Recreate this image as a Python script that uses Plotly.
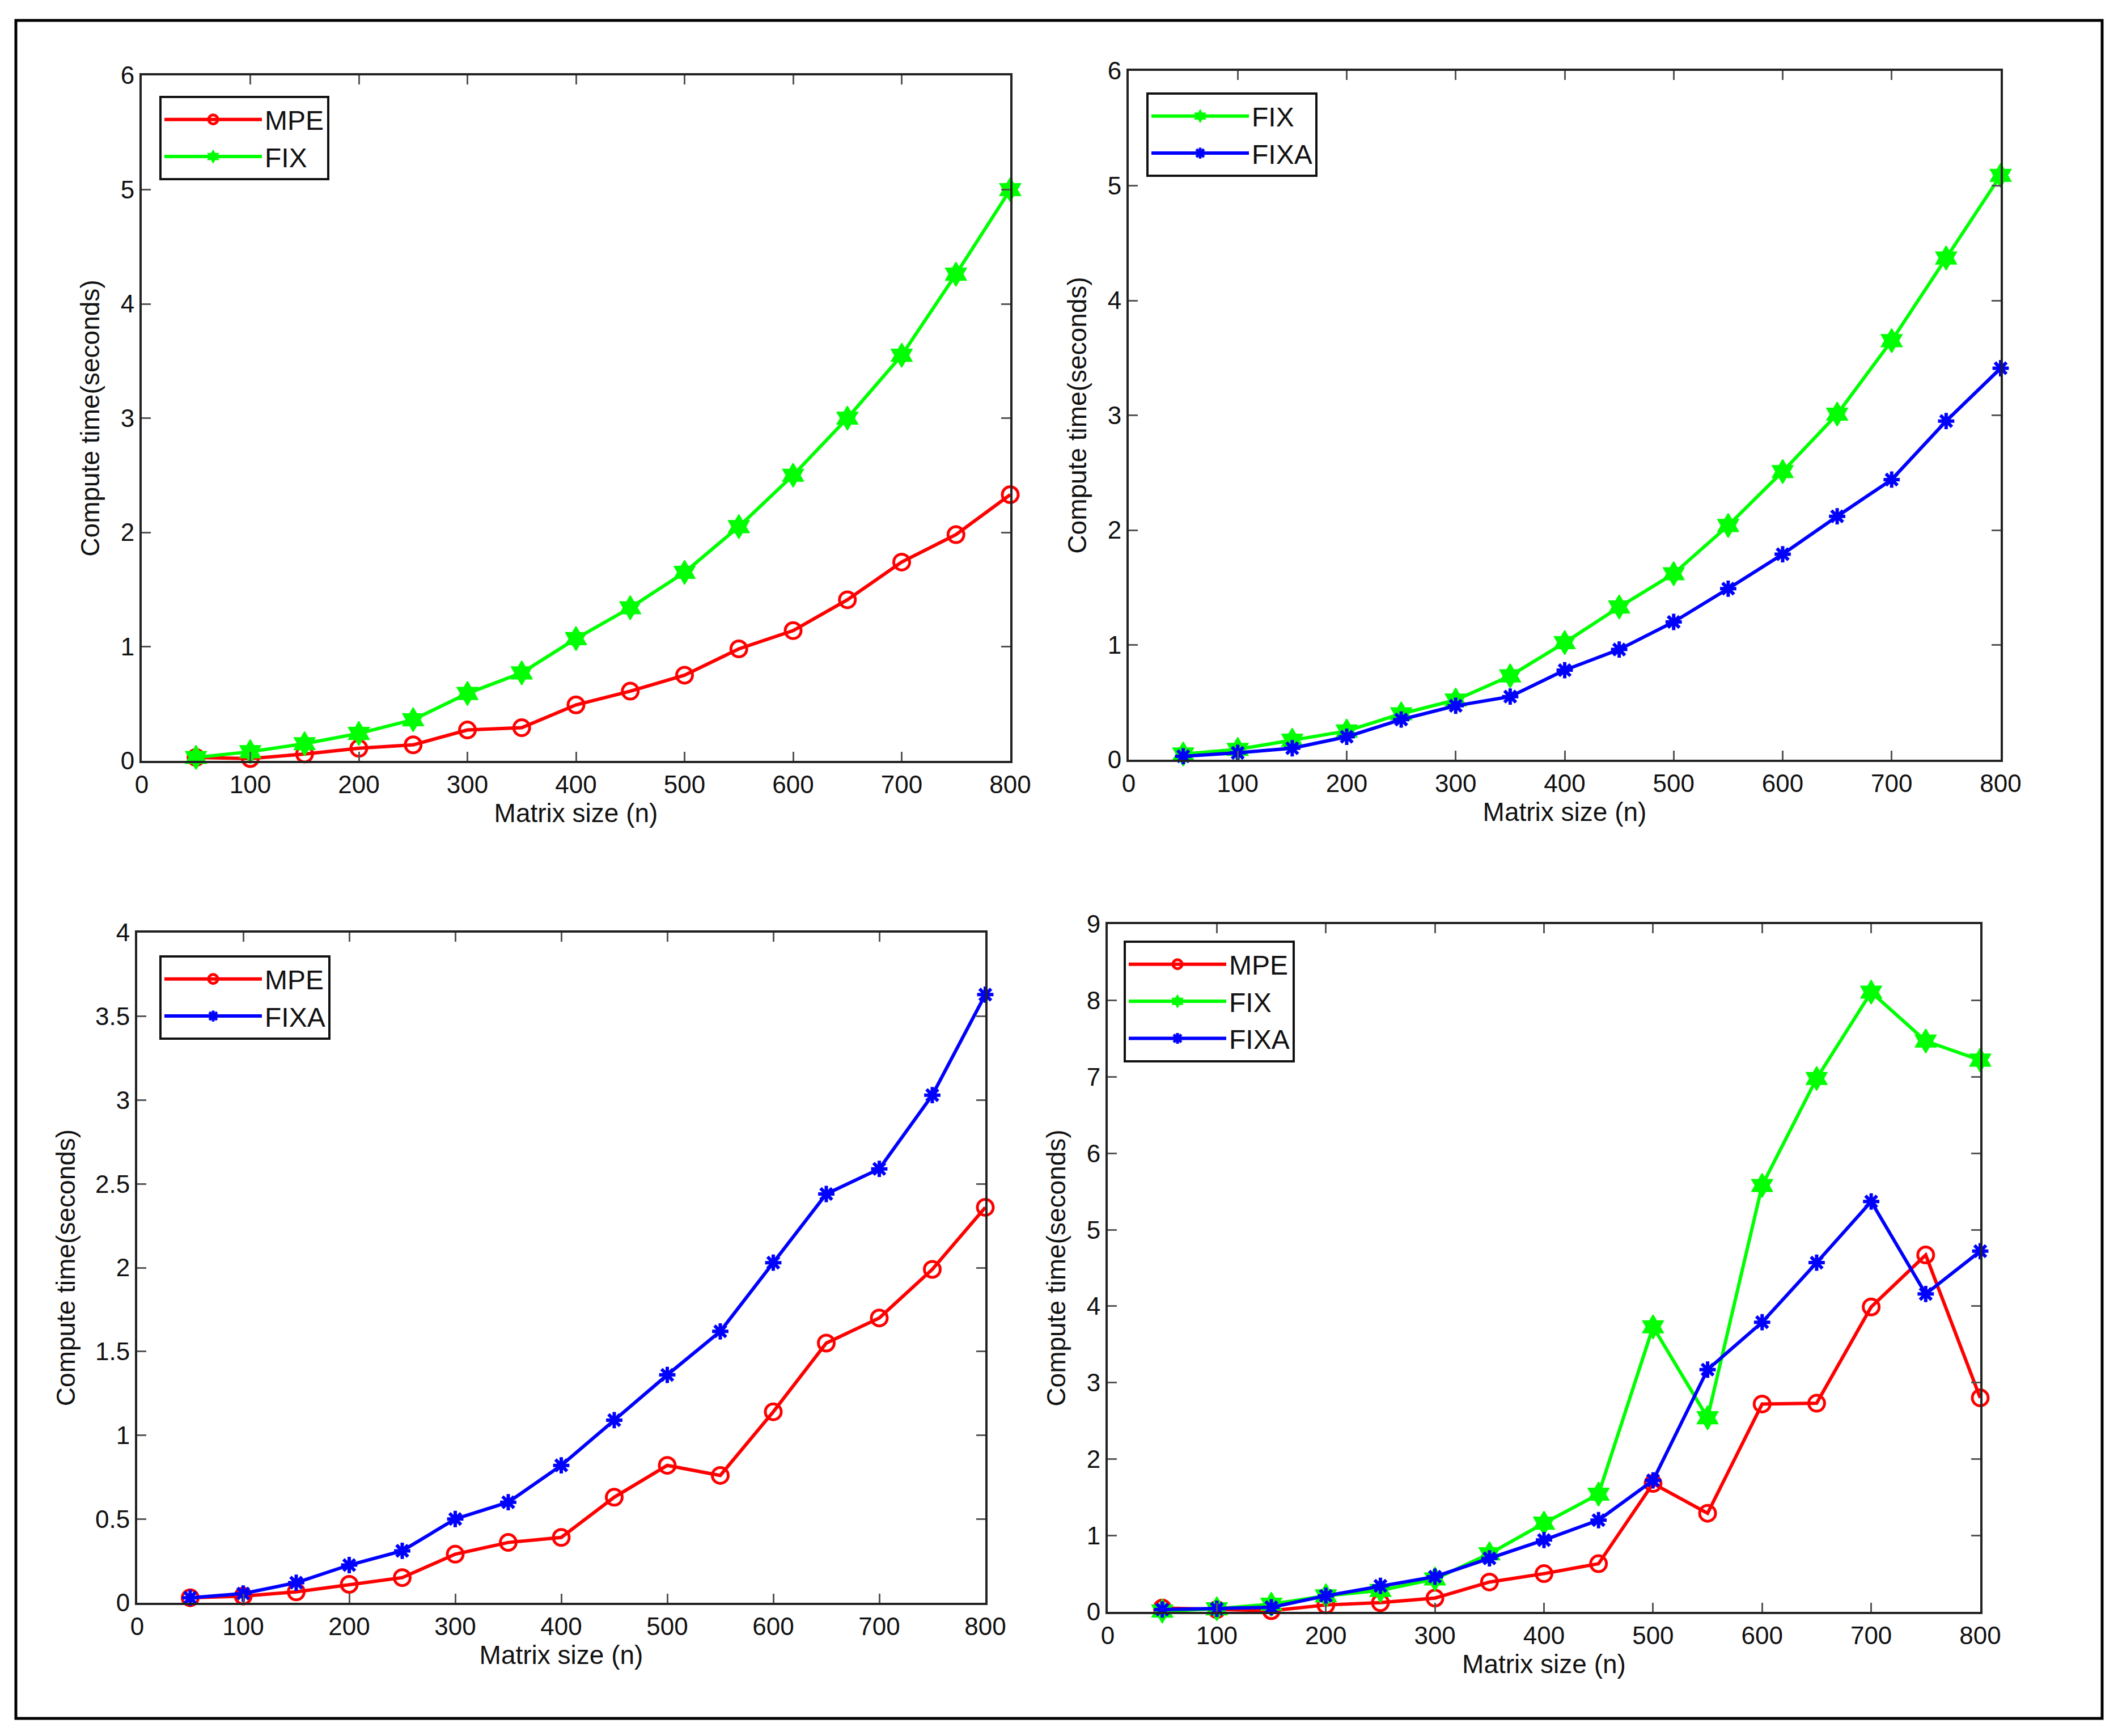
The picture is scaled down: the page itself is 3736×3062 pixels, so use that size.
import plotly.graph_objects as go

W, H = 3736, 3062

# ---------------- data ----------------
n = [50, 100, 150, 200, 250, 300, 350, 400, 450, 500, 550, 600, 650, 700, 750, 800]
x_ticks = [0, 100, 200, 300, 400, 500, 600, 700, 800]

# panel 1 (top-left): MPE vs FIX
p1_mpe = [0.03, 0.02, 0.06, 0.11, 0.14, 0.27, 0.29, 0.49, 0.61, 0.75, 0.98, 1.14, 1.41, 1.74, 1.98, 2.33]
p1_fix = [0.03, 0.08, 0.15, 0.24, 0.36, 0.59, 0.77, 1.07, 1.34, 1.65, 2.05, 2.50, 3.00, 3.55, 4.26, 5.00]

# panel 2 (top-right): FIX vs FIXA
p2_fix = [0.05, 0.09, 0.17, 0.25, 0.40, 0.52, 0.73, 1.02, 1.33, 1.62, 2.04, 2.51, 3.01, 3.65, 4.37, 5.09]
p2_fixa = [0.03, 0.06, 0.10, 0.20, 0.35, 0.47, 0.55, 0.78, 0.96, 1.20, 1.49, 1.79, 2.12, 2.44, 2.95, 3.41]

# panel 3 (bottom-left): MPE vs FIXA
p3_mpe = [0.03, 0.04, 0.065, 0.11, 0.15, 0.29, 0.36, 0.39, 0.63, 0.82, 0.76, 1.14, 1.55, 1.70, 1.99, 2.36]
p3_fixa = [0.03, 0.055, 0.12, 0.225, 0.31, 0.50, 0.60, 0.82, 1.09, 1.36, 1.62, 2.03, 2.44, 2.59, 3.03, 3.63]

# panel 4 (bottom-right): MPE, FIX, FIXA
p4_mpe = [0.05, 0.03, 0.015, 0.09, 0.12, 0.18, 0.39, 0.50, 0.63, 1.68, 1.29, 2.72, 2.73, 3.99, 4.67, 2.80]
p4_fix = [0.01, 0.04, 0.10, 0.21, 0.28, 0.43, 0.76, 1.16, 1.54, 3.73, 2.54, 5.58, 6.98, 8.11, 7.47, 7.22]
p4_fixa = [0.03, 0.04, 0.06, 0.21, 0.34, 0.46, 0.70, 0.94, 1.20, 1.72, 3.17, 3.79, 4.57, 5.37, 4.16, 4.72]

y_ticks_6 = [0, 1, 2, 3, 4, 5, 6]
y_ticks_4 = [0, 0.5, 1, 1.5, 2, 2.5, 3, 3.5, 4]
y_ticks_4_text = ["0", "0.5", "1", "1.5", "2", "2.5", "3", "3.5", "4"]
y_ticks_9 = [0, 1, 2, 3, 4, 5, 6, 7, 8, 9]

x_title = "Matrix size (n)"
y_title = "Compute time(seconds)"

# ---------------- styles ----------------
FONT = "Liberation Sans, Arial, Helvetica, sans-serif"
STY = {
    "MPE": dict(color="#ff0000", symbol="circle-open", size=28, lw=5),
    "FIX": dict(color="#00ff00", symbol="hexagram", size=32, lw=2),
    "FIXA": dict(color="#0000ff", symbol="asterisk-open", size=24, lw=6),
}


def px_x(p):
    return p / W


def py_y(p):
    return 1 - p / H


# subplot pixel boxes: (x0, x1), (ytop, ybottom)
boxes = [
    ((250, 1782), (133, 1342)),
    ((1991, 3529), (125, 1340)),
    ((242, 1738), (1645, 2827)),
    ((1954, 3493), (1630, 2843)),
]
legend_pos = [(281, 169), (2022, 163), (281, 1685), (1982, 1659)]
ytitle_standoff = [24, 24, 22, 24]

panels = [
    [("MPE", p1_mpe), ("FIX", p1_fix)],
    [("FIX", p2_fix), ("FIXA", p2_fixa)],
    [("MPE", p3_mpe), ("FIXA", p3_fixa)],
    [("MPE", p4_mpe), ("FIX", p4_fix), ("FIXA", p4_fixa)],
]
yranges = [(0, 6), (0, 6), (0, 4), (0, 9)]
yticks = [(y_ticks_6, [str(v) for v in y_ticks_6]),
          (y_ticks_6, [str(v) for v in y_ticks_6]),
          (y_ticks_4, y_ticks_4_text),
          (y_ticks_9, [str(v) for v in y_ticks_9])]

fig = go.Figure()
layout = {}

for i, (series, box) in enumerate(zip(panels, boxes)):
    k = i + 1
    sfx = "" if k == 1 else str(k)
    leg = "legend" if k == 1 else f"legend{k}"
    for name, vals in series:
        s = STY[name]
        fig.add_trace(go.Scatter(
            x=n, y=vals, name=name, mode="lines+markers",
            xaxis=f"x{sfx}", yaxis=f"y{sfx}", legend=leg,
            cliponaxis=False,
            line=dict(color=s["color"], width=6),
            marker=dict(symbol=s["symbol"], size=s["size"], color=s["color"],
                        line=dict(color=s["color"], width=s["lw"])),
        ))
    (x0, x1), (yt, yb) = box
    axis_common = dict(
        showline=True, linecolor="#222", linewidth=4, mirror="ticks",
        ticks="inside", ticklen=16, tickwidth=3, tickcolor="#555",
        showgrid=False, zeroline=False, automargin=False,
        tickfont=dict(family=FONT, size=44, color="#111"),
    )
    layout[f"xaxis{sfx}"] = dict(
        domain=[px_x(x0), px_x(x1)], anchor=f"y{sfx}", range=[0, 800],
        tickvals=x_ticks, ticktext=[str(v) for v in x_ticks],
        title=dict(text=x_title, font=dict(family=FONT, size=46, color="#111"), standoff=10),
        **axis_common,
    )
    tv, tt = yticks[i]
    layout[f"yaxis{sfx}"] = dict(
        domain=[py_y(yb), py_y(yt)], anchor=f"x{sfx}", range=list(yranges[i]),
        tickvals=tv, ticktext=tt,
        title=dict(text=y_title, font=dict(family=FONT, size=46, color="#111"),
                   standoff=ytitle_standoff[i]),
        **axis_common,
    )
    lx, ly = legend_pos[i]
    layout[leg] = dict(
        x=px_x(lx), y=py_y(ly), xanchor="left", yanchor="top",
        bgcolor="white", bordercolor="#111", borderwidth=4,
        font=dict(family=FONT, size=48, color="#111"),
        itemwidth=172, traceorder="normal", tracegroupgap=0,
    )

fig.update_layout(
    width=W, height=H,
    margin=dict(l=0, r=0, t=0, b=0, autoexpand=False),
    paper_bgcolor="white", plot_bgcolor="white",
    showlegend=True,
    **layout,
)

# outer frame around the whole figure
fig.add_shape(type="rect", xref="paper", yref="paper",
              x0=px_x(28), x1=px_x(3708), y0=py_y(3031), y1=py_y(36),
              line=dict(color="black", width=5), fillcolor="rgba(0,0,0,0)", layer="above")

fig.write_html(
    "out.html",
    post_script=(
        "document.documentElement.style.margin='0';"
        "document.documentElement.style.padding='0';"
        "document.body.style.margin='0';"
        "document.body.style.padding='0';"
        "document.body.style.overflow='hidden';"
    ),
)
